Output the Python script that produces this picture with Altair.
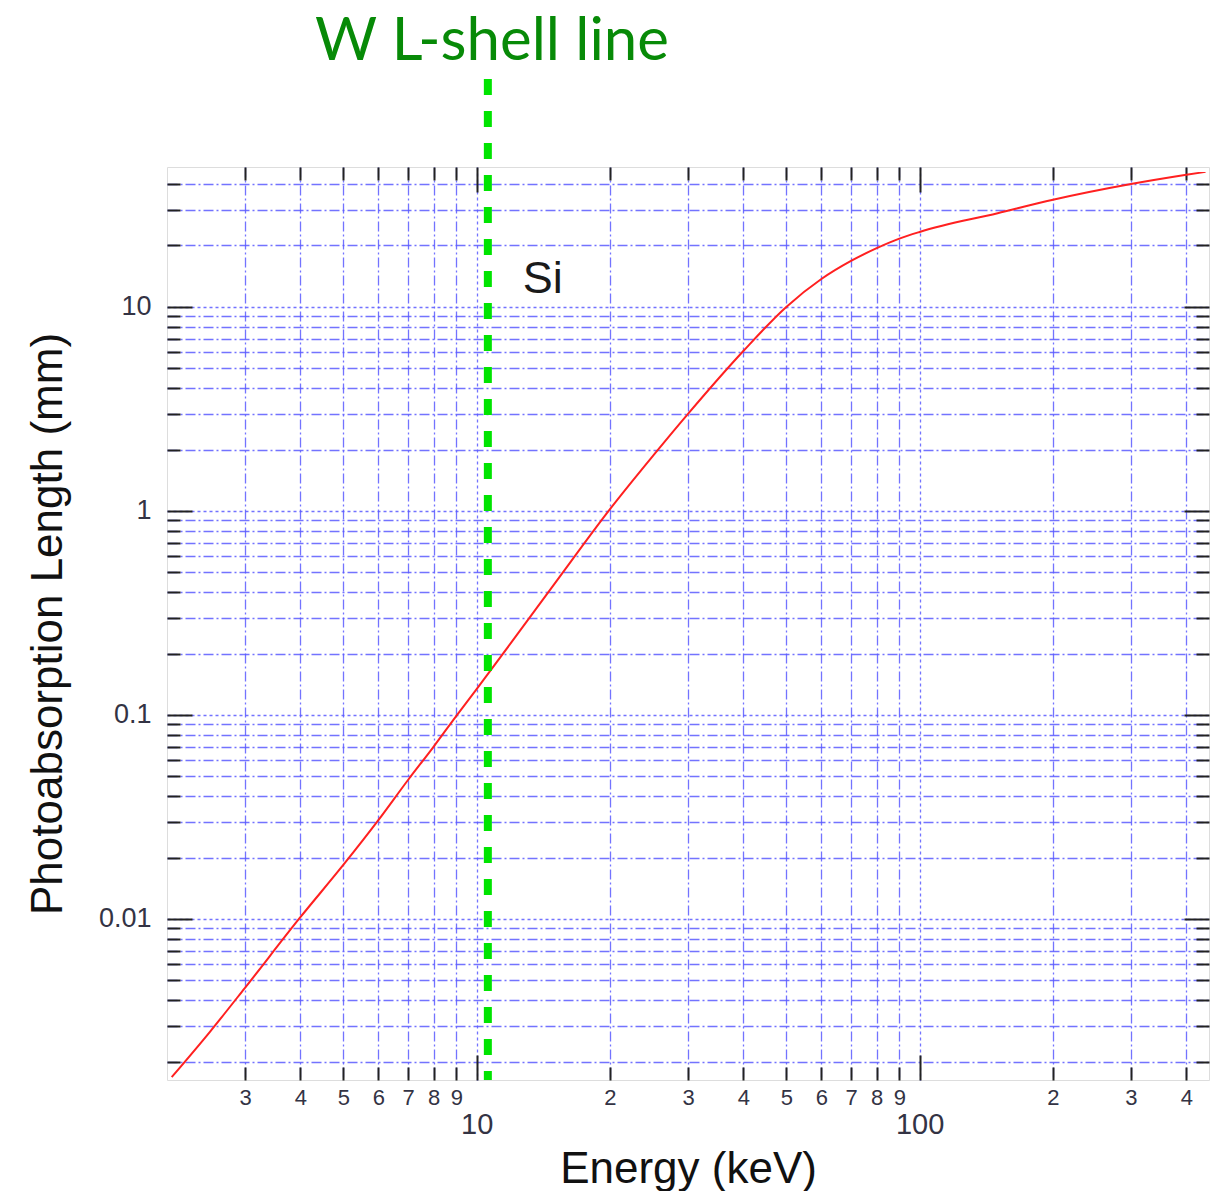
import altair as alt
import pandas as pd

# ---- data ----
energy_kev = [2.05, 2.5, 3, 4, 5, 6, 7, 8, 9, 10, 12, 15, 20, 25, 30, 40, 50, 60,
              70, 80, 90, 100, 150, 200, 300, 400, 442]
length_mm = [0.00168, 0.0028, 0.0046, 0.0102, 0.0184, 0.0305, 0.048, 0.070, 0.099,
             0.134, 0.228, 0.44, 1.02, 1.86, 2.99, 6.08, 10.0, 13.7, 16.8, 19.4,
             21.6, 23.3, 28.8, 33.5, 40.0, 44.4, 45.9]

x_minor = [3, 4, 5, 6, 7, 8, 9, 20, 30, 40, 50, 60, 70, 80, 90, 200, 300, 400]
x_major = [10, 100]
y_minor = [0.002, 0.003, 0.004, 0.005, 0.006, 0.007, 0.008, 0.009,
           0.02, 0.03, 0.04, 0.05, 0.06, 0.07, 0.08, 0.09,
           0.2, 0.3, 0.4, 0.5, 0.6, 0.7, 0.8, 0.9,
           2, 3, 4, 5, 6, 7, 8, 9, 20, 30, 40]
y_major = [0.01, 0.1, 1, 10]

w_line_kev = [10.6]
w_line_label = "W L-shell line"

si_text = ["Si"]
si_energy = [14.1]
si_length = [11.7]

x_domain = [2, 450]
y_domain = [0.001625, 48.5]

W, H = 1042, 913
FONT = "Liberation Sans, Arial, sans-serif"
LBL = "#333344"
GRID = "#5a5aff"
MINOR_DASH = [10, 3, 2, 3]
MAJOR_DASH = [3, 3]

df = pd.DataFrame({"E": energy_kev, "L": length_mm})
xs = alt.Scale(type="log", domain=x_domain, nice=False)
ys = alt.Scale(type="log", domain=y_domain, nice=False)


def ax(orient, values, size, **kw):
    base = dict(orient=orient, values=values, offset=-size, tickSize=size,
                tickWidth=2, tickColor="#222222", domain=False, title=None,
                labelOverlap=False, labelFlush=False, grid=False)
    base.update(kw)
    return alt.Axis(**base)


# red curve with bottom-minor and left-minor axes (+ minor grid)
curve = alt.Chart(df).mark_line(color="#ff2020", strokeWidth=2, interpolate="monotone").encode(
    x=alt.X("E:Q", scale=xs, axis=ax(
        "bottom", x_minor, 13, labels=True,
        labelExpr="substring(toString(datum.value), 0, 1)",
        labelFontSize=22, labelFont=FONT, labelColor=LBL, labelPadding=7,
        grid=True, gridDash=MINOR_DASH, gridColor=GRID, gridWidth=1.3, gridOpacity=0.85)),
    y=alt.Y("L:Q", scale=ys, axis=ax(
        "left", y_minor, 13, labels=False,
        grid=True, gridDash=MINOR_DASH, gridColor=GRID, gridWidth=1.3, gridOpacity=0.85)),
)

# major axes bottom/left with labels and titles
major = alt.Chart(df).mark_point(opacity=0).encode(
    x=alt.X("E:Q", scale=xs, axis=ax(
        "bottom", x_major, 25, labels=True, format="~g",
        labelFontSize=29, labelFont=FONT, labelColor=LBL, labelPadding=30,
        grid=True, gridDash=MAJOR_DASH, gridColor=GRID, gridWidth=1.3, gridOpacity=0.85,
        title="Energy (keV)", titleFont=FONT, titleFontSize=44, titleFontWeight="normal",
        titleColor="#111111", titlePadding=8)),
    y=alt.Y("L:Q", scale=ys, axis=ax(
        "left", y_major, 25, labels=True, format="~g",
        labelFontSize=27, labelFont=FONT, labelColor=LBL, labelPadding=16,
        grid=True, gridDash=MAJOR_DASH, gridColor=GRID, gridWidth=1.3, gridOpacity=0.85,
        title="Photoabsorption Length (mm)", titleFont=FONT, titleFontSize=44,
        titleFontWeight="normal", titleColor="#111111", titlePadding=28)),
)

# mirrored ticks top/right
top_minor = alt.Chart(df).mark_point(opacity=0).encode(
    x=alt.X("E:Q", scale=xs, axis=ax("top", x_minor, 13, labels=False)),
    y=alt.Y("L:Q", scale=ys, axis=ax("right", y_minor, 13, labels=False)),
)
top_major = alt.Chart(df).mark_point(opacity=0).encode(
    x=alt.X("E:Q", scale=xs, axis=ax("top", x_major, 25, labels=False)),
    y=alt.Y("L:Q", scale=ys, axis=ax("right", y_major, 25, labels=False)),
)

wline = alt.Chart(pd.DataFrame({"E": w_line_kev})).mark_rule(
    color="#00e400", strokeWidth=8, strokeDash=[16, 16]
).encode(
    x=alt.X("E:Q", scale=xs, axis=None),
    y=alt.value(-88),
    y2=alt.value(H),
)

si = alt.Chart(pd.DataFrame({"E": si_energy, "L": si_length, "t": si_text})).mark_text(
    font=FONT, fontSize=45, color="#1a1a1a", align="center", baseline="alphabetic"
).encode(
    x=alt.X("E:Q", scale=xs, axis=None),
    y=alt.Y("L:Q", scale=ys, axis=None),
    text="t:N",
)

chart = alt.layer(curve, major, top_minor, top_major, wline, si).resolve_scale(
    x="shared", y="shared"
).resolve_axis(
    x="independent", y="independent"
).properties(
    width=W, height=H,
    title=alt.Title(w_line_label, font="Gill Sans, Lato, sans-serif", fontSize=60,
                    fontWeight="normal", color="#078a07", anchor="middle",
                    dx=-196, offset=2),
    autosize=alt.AutoSizeParams(type="none"),
    padding={"left": 167, "top": 167, "right": 16, "bottom": 111},
).configure_view(
    stroke="#111111", strokeWidth=2
).configure(background="white")

chart.save("out.html", embed_options={"renderer": "svg", "actions": False})
